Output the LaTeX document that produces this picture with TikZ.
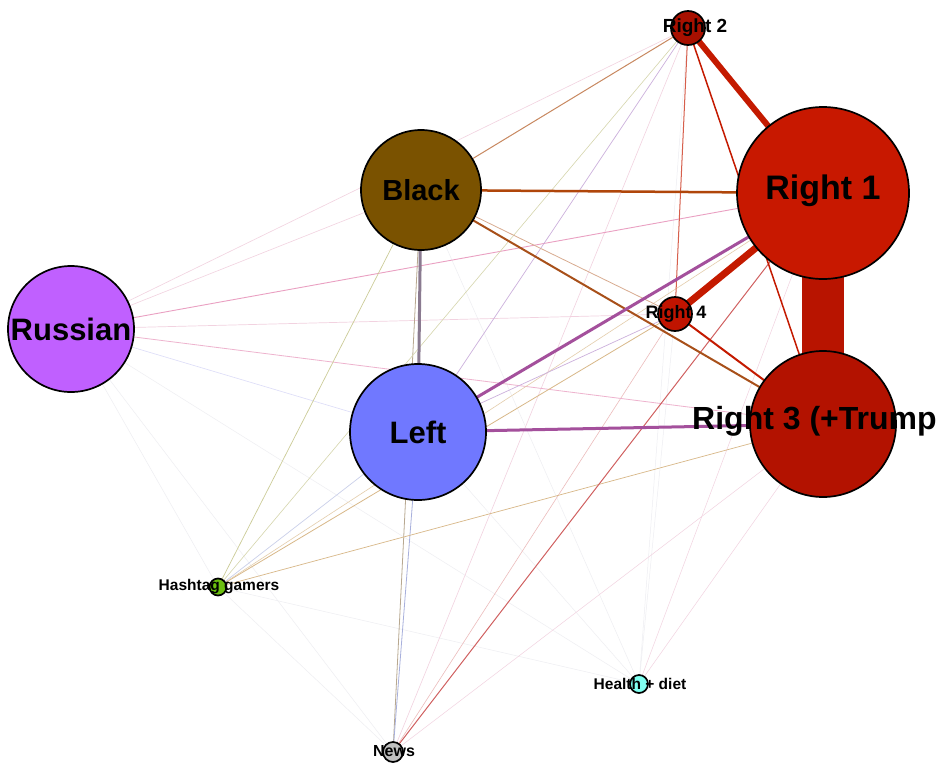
\documentclass[tikz,border=0pt]{standalone}
\usepackage{fontspec}
\setmainfont{Liberation Sans}
\definecolor{cRa}{HTML}{C81800}
\definecolor{cRb}{HTML}{A81000}
\definecolor{cRc}{HTML}{B31200}
\definecolor{cRd}{HTML}{C01400}
\definecolor{cBlack}{HTML}{7A5200}
\definecolor{cRus}{HTML}{C060FF}
\definecolor{cLeft}{HTML}{7078FF}
\definecolor{cHash}{HTML}{6BBF10}
\definecolor{cHealth}{HTML}{80FFF0}
\definecolor{cNews}{HTML}{C0C0C0}
\definecolor{eThick}{HTML}{B81400}
\definecolor{eRed}{HTML}{C41A00}
\definecolor{eBrown}{HTML}{B0460A}
\definecolor{eBrownB}{HTML}{A8501A}
\definecolor{eGrayPur}{HTML}{8A7A90}
\definecolor{ePurple}{HTML}{A4509C}
\definecolor{eTan}{HTML}{D8B888}
\definecolor{eOlive}{HTML}{CCCC98}
\definecolor{ePink}{HTML}{EAA0C2}
\definecolor{ePinkL}{HTML}{F2D2E0}
\definecolor{eLav}{HTML}{DCDCF8}
\definecolor{eFaint}{HTML}{EEEEF2}
\definecolor{eRedL}{HTML}{D06060}
\definecolor{eRedF}{HTML}{ECBCBC}
\definecolor{eBlueG}{HTML}{A8B0DC}
\definecolor{eBrownG}{HTML}{B8A890}
\definecolor{ePurL}{HTML}{CCB0DC}
\definecolor{eBrownL}{HTML}{C88860}
\pgfdeclarelayer{bg}
\pgfsetlayers{bg,main}
\begin{document}
\begin{tikzpicture}[x=1pt,y=-1pt]
\tikzset{
  vtx/.style={circle, draw=black, line width=1.7pt, inner sep=0pt, minimum size=#1},
  lbl/.style={font=\bfseries\fontsize{#1}{#1}\selectfont, inner sep=0pt, text=black},
  edg/.style={line width=#1},
}
\useasboundingbox (0,0) rectangle (944,766);

% vertices
\node[vtx=34, fill=cRb] (r2) at (688,28) {};
\node[vtx=172, fill=cRa] (r1) at (823,193) {};
\node[vtx=120, fill=cBlack] (blk) at (421,190) {};
\node[vtx=126, fill=cRus] (rus) at (71,329) {};
\node[vtx=146, fill=cRc] (r3) at (823,424) {};
\node[vtx=136, fill=cLeft] (lft) at (418,432) {};
\node[vtx=34, fill=cRd] (r4) at (675,314) {};
\node[vtx=17, fill=cHash] (hg) at (218,587) {};
\node[vtx=18, fill=cHealth] (hd) at (639,684) {};
\node[vtx=20, fill=cNews] (nws) at (393,752) {};

% edges
\begin{pgfonlayer}{bg}
\fill[white] (0,0) rectangle (944,766);
% faint
\draw[edg=0.5, eFaint] (rus.center) -- (hd.center);
\draw[edg=0.5, eFaint] (rus.center) -- (nws.center);
\draw[edg=0.5, eFaint] (rus.center) -- (hg.center);
\draw[edg=0.5, eFaint] (hg.center) -- (hd.center);
\draw[edg=0.5, eFaint] (hg.center) -- (nws.center);
\draw[edg=0.5, eFaint] (blk.center) -- (hd.center);
\draw[edg=0.5, eFaint] (lft.center) -- (hd.center);
\draw[edg=0.5, eFaint] (hd.center) -- (r4.center);
\draw[edg=0.5, eFaint] (hd.center) -- (r2.center);
\draw[edg=0.5, ePinkL] (hd.center) -- (r1.center);
\draw[edg=0.5, ePinkL] (hd.center) -- (r3.center);
\draw[edg=0.5, ePinkL] (nws.center) -- (r3.center);
\draw[edg=0.6, eRedF] (nws.center) -- (r4.center);
\draw[edg=0.6, ePinkL] (r2.center) -- (nws.center);
\draw[edg=0.6, eLav] (rus.center) -- (lft.center);
\draw[edg=0.6, ePinkL] (rus.center) -- (blk.center);
\draw[edg=0.6, ePinkL] (rus.center) -- (r2.center);
\draw[edg=0.7, ePinkL] (rus.center) -- (r4.center);
\draw[edg=0.8, ePink!80] (rus.center) -- (r3.center);
\draw[edg=0.9, ePink] (rus.center) -- (r1.center);
\draw[edg=0.7, eOlive] (blk.center) -- (hg.center);
\draw[edg=0.8, eBrownG] (blk.center) -- (nws.center);
\draw[edg=0.8, eBlueG] (lft.center) -- (nws.center);
\draw[edg=0.7, eBlueG!60] (hg.center) -- (lft.center);
\draw[edg=0.8, eTan] (hg.center) -- (r4.center);
\draw[edg=0.6, eTan!70] (hg.center) -- (r1.center);
\draw[edg=0.7, eTan] (hg.center) -- (r3.center);
\draw[edg=0.6, eOlive!80] (hg.center) -- (r2.center);
\draw[edg=0.7, ePurL] (lft.center) -- (r4.center);
\draw[edg=0.7, ePurL] (r2.center) -- (lft.center);
\draw[edg=0.8, eBrownL!70] (blk.center) -- (r4.center);
\draw[edg=1.0, eBrownL] (r2.center) -- (blk.center);
\draw[edg=1.0, eRed!70] (r2.center) -- (r4.center);
\draw[edg=1.0, eRedL] (nws.center) -- (r1.center);
% medium
\draw[edg=1.5, eRed] (r2.center) -- (r3.center);
\draw[edg=2.0, eRed] (r4.center) -- (r3.center);
\draw[edg=2.0, eBrownB] (blk.center) -- (r3.center);
\draw[edg=2.5, eBrown] (blk.center) -- (r1.center);
\draw[edg=3.0, eGrayPur] (blk.center) -- (lft.center);
\draw[edg=3.0, ePurple] (lft.center) -- (r1.center);
\draw[edg=3.0, ePurple] (lft.center) -- (r3.center);
% strong
\draw[edg=6, eRed] (r2.center) -- (r1.center);
\draw[edg=7, eRed] (r4.center) -- (r1.center);
\draw[edg=42, eThick] (r1.center) -- (r3.center);
\end{pgfonlayer}

% labels
\node[lbl=19] (lr2) at (695,28) {Right 2};
\node[lbl=34] (lr1) at (823,191) {Right 1};
\node[lbl=29] (lblk) at (421,190) {Black};
\node[lbl=31] (lrus) at (71,329) {Russian};
\node[lbl=18] (lr4) at (676,314) {Right 4};
\node[lbl=31] (llft) at (418,432) {Left};
\node[lbl=32, anchor=west] (lr3) at (692,421) {Right 3 (+Trump};
\node[lbl=15.5] (lhg) at (219,587) {Hashtag gamers};
\node[lbl=15.5] (lhd) at (640,684) {Health + diet};
\node[lbl=16] (lnws) at (394,751) {News};
\end{tikzpicture}
\end{document}
